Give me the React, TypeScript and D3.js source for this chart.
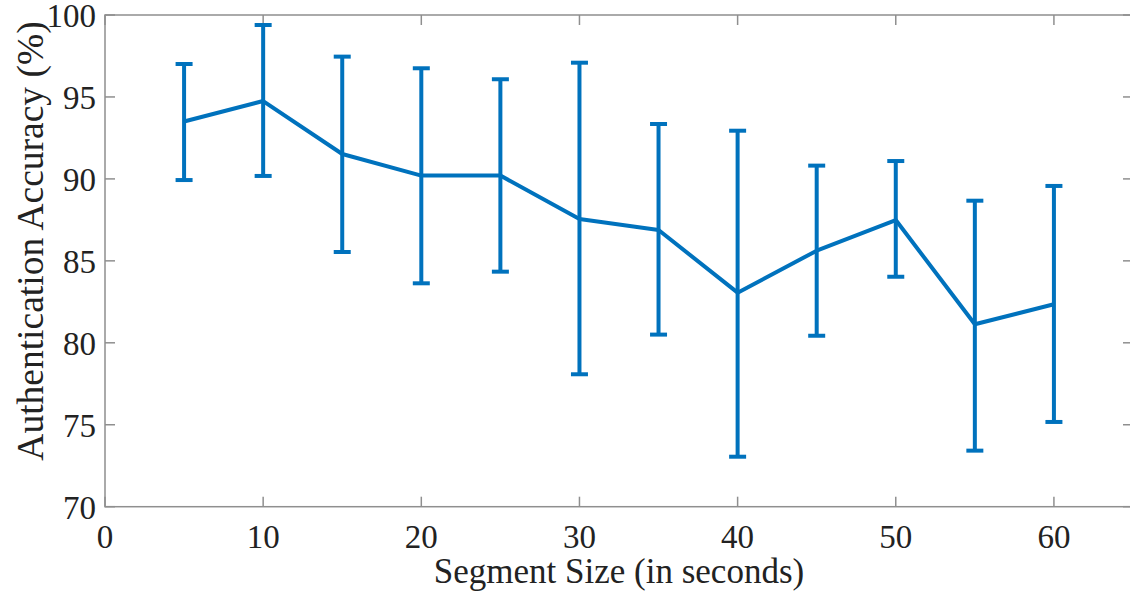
import React from "react";
import * as d3 from "d3";

const segmentSizes = [5, 10, 15, 20, 25, 30, 35, 40, 45, 50, 55, 60];
const meanAccuracy = [93.5, 94.75, 91.52, 90.2, 90.2, 87.55, 86.88, 83.06, 85.62, 87.49, 81.13, 82.35];
const upperBound = [97.01, 99.39, 97.46, 96.75, 96.08, 97.09, 93.35, 92.94, 90.81, 91.09, 88.67, 89.57];
const lowerBound = [89.93, 90.18, 85.54, 83.63, 84.34, 78.08, 80.5, 73.05, 80.43, 84.03, 73.42, 75.17];
const xTicks = [0, 10, 20, 30, 40, 50, 60];
const yTicks = [70, 75, 80, 85, 90, 95, 100];

const W = 1130;
const H = 598;
const left = 105;
const right = 1133;
const top = 15;
const bottom = 506.7;

export default function App() {
  const x = d3.scaleLinear().domain([0, 65]).range([left, right]);
  const y = d3.scaleLinear().domain([70, 100]).range([bottom, top]);
  const blue = "#0072BD";
  const axisColor = "#8f8f8f";
  const font = "'Liberation Serif', 'Times New Roman', serif";
  const tickLen = 10;
  const capHalf = 8.5;

  const pts: [number, number][] = segmentSizes.map((s, i) => [x(s), y(meanAccuracy[i])]);
  const linePath = d3.line()(pts) || "";

  return (
    <svg width={W} height={H} style={{ position: "absolute", left: 0, top: 0, background: "#fff" }}>
      <rect x={0} y={0} width={W} height={H} fill="#fff" />
      {xTicks.map((t) => (
        <g key={"xt" + t}>
          <line x1={x(t)} x2={x(t)} y1={bottom} y2={bottom - tickLen} stroke={axisColor} strokeWidth={1.5} />
          <line x1={x(t)} x2={x(t)} y1={top} y2={top + tickLen} stroke={axisColor} strokeWidth={1.5} />
          <text x={x(t)} y={548} textAnchor="middle" fontFamily={font} fontSize={33} fill="#222">
            {t}
          </text>
        </g>
      ))}
      {yTicks.map((t) => (
        <g key={"yt" + t}>
          <line x1={left} x2={left + tickLen} y1={y(t)} y2={y(t)} stroke={axisColor} strokeWidth={1.5} />
          <line x1={right} x2={right - tickLen} y1={y(t)} y2={y(t)} stroke={axisColor} strokeWidth={1.5} />
          <text x={96} y={y(t)} dy="0.36em" textAnchor="end" fontFamily={font} fontSize={33} fill="#222">
            {t}
          </text>
        </g>
      ))}
      <rect x={left} y={top} width={right - left} height={bottom - top} fill="none" stroke={axisColor} strokeWidth={1.5} />
      {segmentSizes.map((s, i) => (
        <g key={"eb" + s} stroke={blue} strokeWidth={4}>
          <line x1={x(s)} x2={x(s)} y1={y(upperBound[i])} y2={y(lowerBound[i])} />
          <line x1={x(s) - capHalf} x2={x(s) + capHalf} y1={y(upperBound[i])} y2={y(upperBound[i])} />
          <line x1={x(s) - capHalf} x2={x(s) + capHalf} y1={y(lowerBound[i])} y2={y(lowerBound[i])} />
        </g>
      ))}
      <path d={linePath} fill="none" stroke={blue} strokeWidth={4} strokeLinejoin="round" />
      <text x={(left + right) / 2} y={583} textAnchor="middle" fontFamily={font} fontSize={35} fill="#222">
        Segment Size (in seconds)
      </text>
      <text
        transform={`translate(43, 241) rotate(-90)`}
        textAnchor="middle"
        fontFamily={font}
        fontSize={37.5}
        fill="#222"
      >
        Authentication Accuracy (%)
      </text>
    </svg>
  );
}
